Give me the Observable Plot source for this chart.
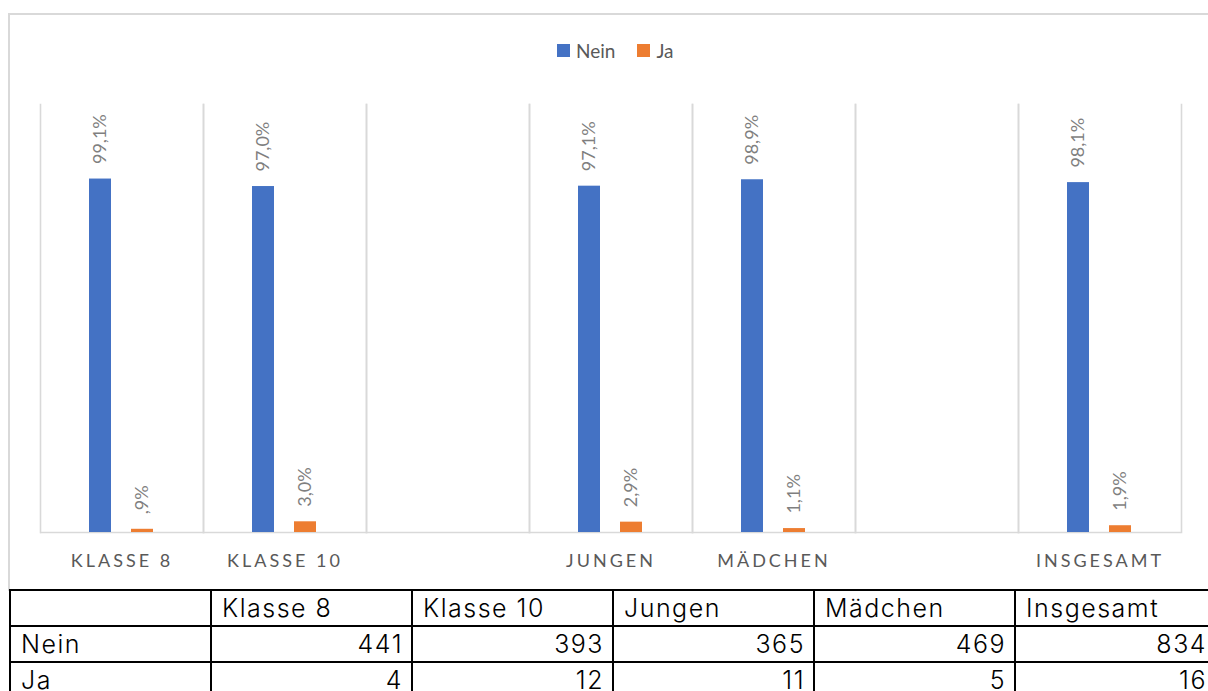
<!DOCTYPE html>
<html><head><meta charset="utf-8">
<script src="https://cdn.jsdelivr.net/npm/d3@7"></script>
<script src="https://cdn.jsdelivr.net/npm/@observablehq/plot@0.6"></script>
<style>
html,body{margin:0;padding:0;background:#fff;overflow:hidden;width:1208px;height:691px;position:relative;}
#box{position:absolute;left:8px;top:13px;width:1240px;height:578px;border:2px solid #d9d9d9;border-bottom:none;box-sizing:border-box;}
#chart{position:absolute;left:0;top:0;}
#legend{position:absolute;top:39px;left:557px;font-family:Lato,sans-serif;font-size:19px;color:#595959;display:flex;align-items:center;white-space:nowrap;}
#legend .sw{width:13px;height:13px;display:inline-block;margin-right:6px;}
#legend .item{display:flex;align-items:center;margin-right:22px;}
[aria-label="fx-axis tick label"] text{letter-spacing:3px;}
table{position:absolute;left:9px;top:589px;border-collapse:collapse;table-layout:fixed;font-family:Inter,sans-serif;font-size:25px;font-weight:300;letter-spacing:1.5px;color:#000;}
td{border:2px solid #000;height:31.8px;padding:2px 9px 0 10px;line-height:31.5px;white-space:nowrap;overflow:hidden;}
td.num{text-align:right;padding-right:8px;}
</style>
</head><body>
<div id="box"></div>
<div id="chart"></div>
<div id="legend"></div>
<table id="tbl"></table>
<script>
const categories = ["Klasse 8", "Klasse 10", "Jungen", "Mädchen", "Insgesamt"];
const slots = ["Klasse 8", "Klasse 10", "leer 1", "Jungen", "Mädchen", "leer 2", "Insgesamt"];
const series = ["Nein", "Ja"];
const neinPct = [99.1, 97.0, 97.1, 98.9, 98.1];
const jaPct = [0.9, 3.0, 2.9, 1.1, 1.9];
const neinCount = [441, 393, 365, 469, 834];
const jaCount = [4, 12, 11, 5, 16];
const colors = ["#4472C4", "#ED7D31"];

const rows = categories.flatMap((c, i) => [
  {cat: c, series: "Nein", pct: neinPct[i]},
  {cat: c, series: "Ja", pct: jaPct[i]}
]);
const fmt = v => v.toFixed(1).replace(".", ",").replace(/^0/, "") + "%";

const chart = Plot.plot({
  width: 1208, height: 590,
  marginLeft: 37, marginRight: 24, marginTop: 104, marginBottom: 58,
  style: {background: "transparent", fontFamily: "Lato, sans-serif"},
  fx: {domain: slots, padding: 0, label: null},
  x: {domain: series, paddingInner: 0.476, paddingOuter: 1.16, axis: null},
  y: {domain: [0, 120], axis: null},
  color: {domain: series, range: colors},
  marks: [
    Plot.frame({anchor: "left", stroke: "#d9d9d9", strokeWidth: 1.6}),
    Plot.frame({anchor: "right", stroke: "#d9d9d9", strokeWidth: 1.6}),
    Plot.ruleY(slots, {fx: d => d, y: () => 0, stroke: "#d9d9d9", strokeWidth: 1.6}),
    Plot.barY(rows, {fx: "cat", x: "series", y: "pct", fill: "series"}),
    Plot.text(rows, {fx: "cat", x: "series", y: "pct", text: d => fmt(d.pct), rotate: -90,
      textAnchor: "start", dy: -15, fill: "#7f7f7f", fontSize: 18}),
    Plot.axisFx({anchor: "bottom", tickSize: 0, tickPadding: 22, fontSize: 18, fill: "#595959",
      tickFormat: d => categories.includes(d) ? d.toUpperCase() : "", label: null})
  ]
});
document.getElementById("chart").append(chart);

// legend
const lg = document.getElementById("legend");
series.forEach((s, i) => {
  const it = document.createElement("span");
  it.className = "item";
  it.innerHTML = `<span class="sw" style="background:${colors[i]}"></span><span>${s}</span>`;
  lg.append(it);
});

// table
const tbl = document.getElementById("tbl");
const colW = [201, 201, 201, 201, 201, 201];
tbl.style.width = d3.sum(colW) + "px";
const cg = document.createElement("colgroup");
colW.forEach(w => { const c = document.createElement("col"); c.style.width = w + "px"; cg.append(c); });
tbl.append(cg);
const mk = (cells, numeric) => {
  const tr = document.createElement("tr");
  cells.forEach((v, i) => {
    const td = document.createElement("td");
    td.textContent = v;
    if (numeric && i > 0) td.className = "num";
    tr.append(td);
  });
  tbl.append(tr);
};
mk(["", ...categories], false);
mk([series[0], ...neinCount], true);
mk([series[1], ...jaCount], true);
</script>
</body></html>
